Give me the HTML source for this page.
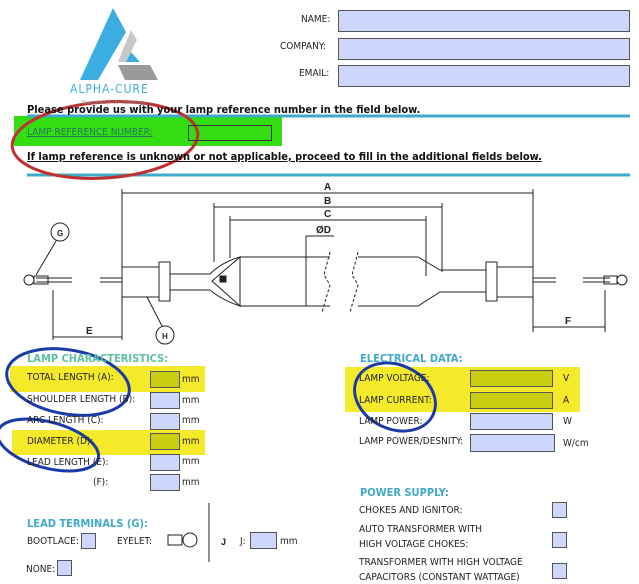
<!DOCTYPE html>
<html><head><meta charset="utf-8"><style>
body{margin:0;width:639px;height:576px;background:#fff;position:relative;overflow:hidden;font-family:"DejaVu Sans Condensed","Liberation Sans",sans-serif;}
.t{position:absolute;font-size:10px;color:#222;white-space:nowrap;line-height:12px;}
.b{position:absolute;background:#cdd7fb;border:1px solid #555;box-sizing:border-box;}
.y{background:#c9cf10;}
.h{position:absolute;font-size:11px;font-weight:bold;color:#3fa9c9;white-space:nowrap;}
.hl{position:absolute;background:#f5ea2a;}
</style></head><body>
<div class="hl" style="left:14px;top:116px;width:268px;height:30px;background:#33dd11;"></div>
<div class="hl" style="left:10px;top:366px;width:195px;height:26px;"></div>
<div class="hl" style="left:12px;top:430px;width:193px;height:25px;"></div>
<div class="hl" style="left:345px;top:367px;width:235px;height:45px;"></div>

<svg width="639" height="576" style="position:absolute;left:0;top:0">
<polygon points="80,80 113,8 126,32 98,80" fill="#3aaee0"/>
<polygon points="118,62 131,30 137,40 126,62" fill="#c8c8c8"/>
<polygon points="131,52 140,62 126,62" fill="#3aaee0"/>
<polygon points="118,65 150,65 158,80 125,80" fill="#9a9a9a"/>
<line x1="27" y1="116" x2="630" y2="116" stroke="#3fa9c9" stroke-width="3"/>
<line x1="27" y1="175" x2="630" y2="175" stroke="#3fa9c9" stroke-width="3"/>
<g stroke="#222" stroke-width="1" fill="none">
<line x1="122" y1="193" x2="533" y2="193"/><line x1="122" y1="189" x2="122" y2="282"/><line x1="533" y1="189" x2="533" y2="282"/>
<line x1="214" y1="207" x2="442" y2="207"/><line x1="214" y1="203" x2="214" y2="262"/><line x1="442" y1="203" x2="442" y2="272"/>
<line x1="230" y1="220" x2="426" y2="220"/><line x1="230" y1="216" x2="230" y2="258"/><line x1="426" y1="216" x2="426" y2="276"/>
<line x1="306" y1="236" x2="306" y2="306"/><line x1="306" y1="236" x2="334" y2="236"/>
<path d="M240,257 L330,257 M240,306 L330,306 M358,257 L418,257 L440,270 L486,270 M358,306 L418,306 L440,292 L486,292"/>
<path d="M240,257 Q222,262 210,274 L170,274 M240,306 Q222,300 210,290 L170,290"/>
<path d="M240,257 L212,281 L240,306 Z"/>
<rect x="220" y="276" width="6" height="6" fill="#222"/>
<path d="M330,252 L324,275 L330,285 L322,312 M358,252 L352,275 L358,285 L350,312" stroke-dasharray="3,2"/>
<rect x="122" y="267" width="37" height="30"/><rect x="159" y="262" width="11" height="39"/>
<rect x="497" y="267" width="36" height="30"/><rect x="486" y="262" width="11" height="39"/>
<line x1="36" y1="278" x2="72" y2="278"/><line x1="36" y1="282" x2="72" y2="282"/>
<line x1="100" y1="278" x2="122" y2="278"/><line x1="100" y1="282" x2="122" y2="282"/>
<line x1="533" y1="278" x2="556" y2="278"/><line x1="533" y1="282" x2="556" y2="282"/>
<line x1="583" y1="278" x2="610" y2="278"/><line x1="583" y1="282" x2="610" y2="282"/>
<circle cx="29" cy="280" r="5"/><rect x="34" y="276" width="14" height="8"/>
<circle cx="622" cy="280" r="5"/><rect x="604" y="276" width="13" height="8"/>
<line x1="53" y1="290" x2="53" y2="340"/><line x1="53" y1="337" x2="122" y2="337"/><line x1="122" y1="282" x2="122" y2="340"/>
<line x1="533" y1="327" x2="605" y2="327"/><line x1="605" y1="290" x2="605" y2="332"/><line x1="533" y1="297" x2="533" y2="332"/>
<circle cx="60" cy="232" r="9"/><line x1="56" y1="241" x2="36" y2="275"/>
<circle cx="165" cy="335" r="9"/><line x1="162" y1="326" x2="147" y2="297"/>
<line x1="209" y1="503" x2="209" y2="562"/><rect x="168" y="535" width="14" height="10"/><circle cx="190" cy="540" r="7"/>
</g>
<g font-size="10" font-weight="bold" fill="#222" font-family="Liberation Sans">
<text x="324" y="190">A</text><text x="324" y="204">B</text><text x="324" y="217">C</text><text x="316" y="233">ØD</text>
<text x="57" y="236" font-size="8">G</text><text x="162" y="339" font-size="8">H</text>
<text x="86" y="334">E</text><text x="565" y="324">F</text><text x="221" y="545" font-size="9">J</text>
</g>
<g fill="none" stroke-width="3">
<ellipse cx="105" cy="140" rx="93" ry="38" stroke="#c03030" transform="rotate(-4 105 140)"/>
<ellipse cx="68" cy="382" rx="62" ry="32" stroke="#1a3aa8" transform="rotate(10 68 382)"/>
<ellipse cx="48" cy="445" rx="52" ry="23" stroke="#1a3aa8" transform="rotate(15 48 445)"/>
<ellipse cx="395" cy="397" rx="42" ry="32" stroke="#1a3aa8" transform="rotate(25 395 397)"/>
</g>
</svg>

<div class="t" style="left:70px;top:83px;font-size:12px;color:#3aaee0;letter-spacing:1px;">ALPHA-CURE</div>
<div class="t" style="left:82px;top:97px;font-size:5px;color:#888;">Specialists in UV Technology</div>
<div class="t" style="left:301px;top:14px;">NAME:</div>
<div class="t" style="left:280px;top:41px;">COMPANY:</div>
<div class="t" style="left:299px;top:68px;">EMAIL:</div>
<div class="b" style="left:338px;top:10px;width:292px;height:22px;"></div>
<div class="b" style="left:338px;top:38px;width:292px;height:22px;"></div>
<div class="b" style="left:338px;top:65px;width:292px;height:22px;"></div>

<div class="t" style="left:27px;top:104px;font-size:11px;font-weight:bold;color:#111;">Please provide us with your lamp reference number in the field below.</div>
<div class="t" style="left:27px;top:127px;color:#11a;text-decoration:underline;opacity:.5">LAMP REFERENCE NUMBER:</div>
<div style="position:absolute;left:188px;top:125px;width:84px;height:16px;border:1px solid #333;box-sizing:border-box;"></div>
<div class="t" style="left:27px;top:151px;font-size:11px;font-weight:bold;color:#111;text-decoration:underline;">If lamp reference is unknown or not applicable, proceed to fill in the additional fields below.</div>

<div class="h" style="left:27px;top:352px;color:#5cbfa0;">LAMP CHARACTERISTICS:</div>
<div class="t" style="left:27px;top:372px;">TOTAL LENGTH (A):</div>
<div class="t" style="left:27px;top:394px;">SHOULDER LENGTH (B):</div>
<div class="t" style="left:27px;top:415px;">ARC LENGTH (C):</div>
<div class="t" style="left:27px;top:436px;">DIAMETER (D):</div>
<div class="t" style="left:27px;top:457px;">LEAD LENGTH (E):</div>
<div class="t" style="left:93px;top:477px;">(F):</div>
<div class="b y" style="left:150px;top:371px;width:30px;height:17px;"></div>
<div class="b" style="left:150px;top:392px;width:30px;height:17px;"></div>
<div class="b" style="left:150px;top:413px;width:30px;height:17px;"></div>
<div class="b y" style="left:150px;top:433px;width:30px;height:17px;"></div>
<div class="b" style="left:150px;top:454px;width:30px;height:17px;"></div>
<div class="b" style="left:150px;top:474px;width:30px;height:17px;"></div>
<div class="t" style="left:182px;top:374px;">mm</div><div class="t" style="left:182px;top:395px;">mm</div><div class="t" style="left:182px;top:415px;">mm</div><div class="t" style="left:182px;top:436px;">mm</div><div class="t" style="left:182px;top:456px;">mm</div><div class="t" style="left:182px;top:477px;">mm</div>

<div class="h" style="left:360px;top:352px;">ELECTRICAL DATA:</div>
<div class="t" style="left:359px;top:373px;">LAMP VOLTAGE:</div>
<div class="t" style="left:359px;top:395px;">LAMP CURRENT:</div>
<div class="t" style="left:359px;top:416px;">LAMP POWER:</div>
<div class="t" style="left:359px;top:436px;">LAMP POWER/DESNITY:</div>
<div class="b y" style="left:470px;top:370px;width:83px;height:17px;"></div>
<div class="b y" style="left:470px;top:392px;width:83px;height:17px;"></div>
<div class="b" style="left:470px;top:413px;width:83px;height:17px;"></div>
<div class="b" style="left:470px;top:434px;width:85px;height:18px;"></div>
<div class="t" style="left:563px;top:373px;">V</div><div class="t" style="left:563px;top:395px;">A</div><div class="t" style="left:563px;top:416px;">W</div><div class="t" style="left:563px;top:438px;">W/cm</div>

<div class="h" style="left:360px;top:486px;">POWER SUPPLY:</div>
<div class="t" style="left:359px;top:505px;">CHOKES AND IGNITOR:</div>
<div class="t" style="left:359px;top:524px;">AUTO TRANSFORMER WITH</div>
<div class="t" style="left:359px;top:539px;">HIGH VOLTAGE CHOKES:</div>
<div class="t" style="left:359px;top:557px;">TRANSFORMER WITH HIGH VOLTAGE</div>
<div class="t" style="left:359px;top:572px;">CAPACITORS (CONSTANT WATTAGE)</div>
<div class="b" style="left:552px;top:502px;width:15px;height:16px;"></div>
<div class="b" style="left:552px;top:532px;width:15px;height:16px;"></div>
<div class="b" style="left:552px;top:563px;width:15px;height:16px;"></div>

<div class="h" style="left:27px;top:517px;">LEAD TERMINALS (G):</div>
<div class="t" style="left:27px;top:536px;">BOOTLACE:</div>
<div class="b" style="left:81px;top:533px;width:15px;height:16px;"></div>
<div class="t" style="left:117px;top:536px;">EYELET:</div>
<div class="t" style="left:240px;top:536px;">J:</div>
<div class="b" style="left:250px;top:532px;width:27px;height:17px;"></div>
<div class="t" style="left:280px;top:536px;">mm</div>
<div class="t" style="left:26px;top:564px;">NONE:</div>
<div class="b" style="left:57px;top:560px;width:15px;height:16px;"></div>
</body></html>
